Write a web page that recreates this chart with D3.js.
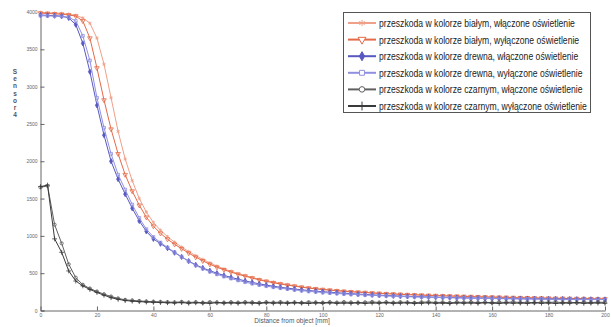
<!DOCTYPE html>
<html>
<head>
<meta charset="utf-8">
<script src="https://cdn.jsdelivr.net/npm/d3@7"></script>
<style>
  body { margin: 0; background: #fff; }
  svg { display: block; }
</style>
</head>
<body>
<svg id="chart" width="611" height="327"></svg>
<script>
// sampling grid in mm
var distance = d3.range(0, 200.01, 2.5);

var yTicks = [0, 500, 1000, 1500, 2000, 2500, 3000, 3500, 4000];
var xTicks = [0, 20, 40, 60, 80, 100, 120, 140, 160, 180, 200];

var labels = [
  "przeszkoda w kolorze białym, włączone oświetlenie",
  "przeszkoda w kolorze białym, wyłączone oświetlenie",
  "przeszkoda w kolorze drewna, włączone oświetlenie",
  "przeszkoda w kolorze drewna, wyłączone oświetlenie",
  "przeszkoda w kolorze czarnym, włączone oświetlenie",
  "przeszkoda w kolorze czarnym, wyłączone oświetlenie"
];

var whiteOn = [3995,3990,3985,3980,3970,3955,3920,3850,3650,3300,
  2850,2400,2030,1740,1500,1320,1180,1075,990,915,
  850,790,735,685,638,595,558,525,495,468,
  442,418,398,380,362,347,332,318,306,295,
  285,277,269,261,255,249,244,238,233,228,
  224,220,216,212,209,206,203,200,197,194,
  191,189,186,184,182,180,178,176,174,172,
  170,169,167,165,164,162,161,160,158,157,156];

var whiteOff = [3985,3980,3975,3970,3960,3945,3880,3650,3250,2820,
  2430,2100,1820,1600,1410,1250,1130,1035,955,888,
  828,770,715,665,620,580,545,515,485,460,
  435,410,390,372,355,340,326,312,300,290,
  280,272,264,257,250,245,240,234,229,224,
  220,216,212,209,205,202,199,196,193,191,
  188,186,183,181,179,177,175,173,171,170,
  168,166,165,163,162,160,159,158,156,155,154];

var woodOn = [3960,3955,3950,3945,3920,3830,3580,3200,2750,2350,
  2000,1760,1560,1370,1200,1060,960,895,835,775,
  718,662,612,570,533,500,470,444,420,397,
  376,357,340,325,311,299,288,278,268,260,
  252,245,238,232,226,220,215,210,205,201,
  197,193,190,187,184,181,179,176,174,172,
  170,168,166,165,163,162,160,159,158,157,
  156,155,154,153,152,151,150,150,149,148,148];

var woodOff = [3950,3948,3945,3940,3930,3880,3680,3350,2850,2450,
  2100,1820,1620,1420,1240,1090,985,910,845,780,
  720,660,605,560,520,485,455,428,403,380,
  360,342,326,312,299,287,276,266,257,249,
  241,234,228,222,217,212,207,203,199,195,
  191,188,185,182,179,177,175,173,171,169,
  167,165,164,162,161,159,158,157,156,155,
  154,153,152,151,150,150,149,148,147,147,146];

var blackOn = [1650,1670,1150,900,620,440,345,295,255,218,
  188,162,143,135,128,122,119,116,113,110,
  116,107,112,104,113,108,105,111,106,112,
  109,104,111,107,113,106,109,104,112,108,
  105,111,107,113,108,104,110,115,107,111,
  106,112,109,105,111,114,107,110,104,112,
  108,113,106,110,105,111,108,114,107,110,
  105,112,108,113,106,110,104,111,107,112,109];

var blackOff = [1660,1680,960,780,530,395,330,282,242,205,
  172,150,134,126,119,114,110,107,104,102,
  106,98,104,100,96,105,99,102,97,103,
  100,95,104,98,101,96,103,99,94,102,
  98,104,96,100,97,103,95,101,98,104,
  96,100,102,95,99,103,97,100,94,102,
  98,101,96,104,99,95,102,98,100,96,
  103,97,101,95,100,98,104,96,99,101,98];

var series = [
  {name: labels[0], values: whiteOn,  color: "#f0a088", symbol: d3.symbolAsterisk, size: 9, fill: false},
  {name: labels[1], values: whiteOff, color: "#e46a48", symbol: d3.symbolTriangle, size: 9, fill: false, rot: 180},
  {name: labels[2], values: woodOn,   color: "#5858c0", symbol: d3.symbolDiamond,  size: 8, fill: true},
  {name: labels[3], values: woodOff,  color: "#9090e0", symbol: d3.symbolSquare,   size: 8, fill: false},
  {name: labels[4], values: blackOn,  color: "#606060", symbol: d3.symbolCircle,   size: 8, fill: false},
  {name: labels[5], values: blackOff, color: "#3a3a3a", symbol: d3.symbolPlus,     size: 9, fill: false}
];

var svg = d3.select("#chart");

var x = d3.scaleLinear().domain([0, 200]).range([40.5, 605]);
var y = d3.scaleLinear().domain([0, 4000]).range([310.5, 12]);

// axes
var yAxis = svg.append("g")
    .attr("transform", "translate(40.5,0)")
    .call(d3.axisRight(y).tickValues(yTicks).tickSize(4).tickFormat(d3.format("d")));
yAxis.select(".domain").attr("stroke", "#666");
yAxis.selectAll(".tick line").attr("stroke", "#666");
yAxis.selectAll("text")
    .attr("x", -3)
    .attr("text-anchor", "end")
    .style("font-family", "Liberation Sans, Arial, sans-serif")
    .style("font-size", "5px")
    .attr("fill", "#666");

var xAxis = svg.append("g")
    .attr("transform", "translate(0,310.5)")
    .call(d3.axisTop(x).tickValues(xTicks).tickSize(4).tickSizeOuter(0));
xAxis.select(".domain").attr("stroke", "#666");
xAxis.selectAll(".tick line").attr("stroke", "#666");
xAxis.selectAll("text")
    .attr("y", 6)
    .attr("dy", 0)
    .style("font-family", "Liberation Sans, Arial, sans-serif")
    .style("font-size", "5px")
    .attr("fill", "#666");

// axis titles
svg.append("text")
    .attr("x", 292)
    .attr("y", 323)
    .attr("text-anchor", "middle")
    .style("font-family", "Liberation Sans, Arial, sans-serif")
    .style("font-size", "6.5px")
    .attr("fill", "#555")
    .text("Distance from object [mm]");

var ylab = svg.append("text")
    .attr("text-anchor", "middle")
    .style("font-family", "Liberation Sans, Arial, sans-serif")
    .style("font-size", "6.5px")
    .style("font-weight", "bold")
    .attr("fill", "#555");
"Sensor 4".replace(" ", "").split("").forEach(function(ch, i) {
  ylab.append("tspan").attr("x", 15).attr("y", 74 + i * 7.2).text(ch);
});

// lines and markers
var line = d3.line()
    .x(function(d, i) { return x(distance[i]); })
    .y(function(d) { return y(d); });

series.forEach(function(s) {
  var g = svg.append("g");
  g.append("path")
      .datum(s.values)
      .attr("fill", "none")
      .attr("stroke", s.color)
      .attr("stroke-width", 1)
      .attr("d", line);
  g.selectAll("path.m")
      .data(s.values)
      .enter().append("path")
      .attr("class", "m")
      .attr("d", d3.symbol().type(s.symbol).size(s.size))
      .attr("transform", function(d, i) {
        return "translate(" + x(distance[i]) + "," + y(d) + ")" + (s.rot ? " rotate(" + s.rot + ")" : "");
      })
      .attr("fill", s.fill ? s.color : "none")
      .attr("stroke", s.color)
      .attr("stroke-width", 0.8);
});

// legend
var legend = svg.append("g").attr("transform", "translate(343,12)");
legend.append("rect")
    .attr("x", 0.5).attr("y", 0.5)
    .attr("width", 247).attr("height", 100)
    .attr("fill", "#fff")
    .attr("stroke", "#555")
    .attr("stroke-width", 1);

var rows = legend.selectAll("g.row")
    .data(series)
    .enter().append("g")
    .attr("class", "row")
    .attr("transform", function(d, i) { return "translate(0," + (11 + i * 16.6) + ")"; });

rows.append("line")
    .attr("x1", 5).attr("x2", 33)
    .attr("stroke", function(d) { return d.color; })
    .attr("stroke-width", 2);
rows.append("path")
    .attr("d", function(d) { return d3.symbol().type(d.symbol).size(d.size * 3)(); })
    .attr("transform", function(d) { return "translate(19,0)" + (d.rot ? " rotate(" + d.rot + ")" : ""); })
    .attr("fill", function(d) { return d.fill ? d.color : "#fff"; })
    .attr("stroke", function(d) { return d.color; })
    .attr("stroke-width", 1);
var texts = rows.append("text")
    .attr("x", 0)
    .attr("y", 4)
    .style("font-family", "Liberation Sans Narrow, Arial Narrow, sans-serif")
    .style("font-size", "11px")
    .attr("fill", "#222")
    .text(function(d) { return d.name; });

// squeeze the text horizontally so the longest line fits the box like a narrow font
var maxLen = d3.max(texts.nodes(), function(n) { return n.getComputedTextLength(); });
var sx = Math.min(1, 208 / maxLen);
texts.attr("transform", "translate(36,0) scale(" + sx + ",1)");
</script>
</body>
</html>
